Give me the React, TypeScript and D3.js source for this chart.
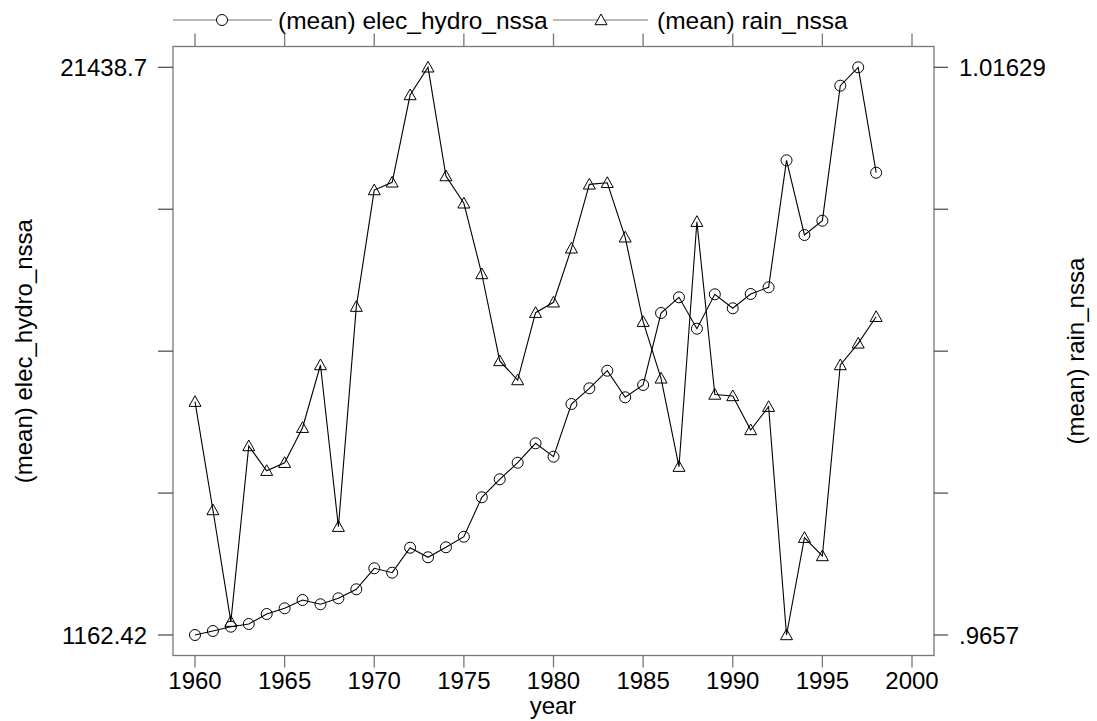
import React from 'react';
import * as d3 from 'd3';

// yearly means
const years = [
  1960, 1961, 1962, 1963, 1964, 1965, 1966, 1967, 1968, 1969,
  1970, 1971, 1972, 1973, 1974, 1975, 1976, 1977, 1978, 1979,
  1980, 1981, 1982, 1983, 1984, 1985, 1986, 1987, 1988, 1989,
  1990, 1991, 1992, 1993, 1994, 1995, 1996, 1997, 1998,
];

const elecHydro = [
  1162.42, 1305, 1459, 1555, 1912, 2116, 2412, 2259, 2473, 2795,
  3545, 3388, 4280, 3938, 4295, 4673, 6081, 6724, 7316, 8009,
  7531, 9413, 9974, 10602, 9652, 10092, 12663, 13224, 12102, 13331,
  12831, 13342, 13581, 18117, 15449, 15960, 20782, 21438.7, 17674,
];

const rain = [
  0.98649, 0.97684, 0.96689, 0.98254, 0.98034, 0.98105, 0.98417, 0.98976, 0.97535, 0.99496,
  1.00535, 1.00604, 1.01382, 1.01629, 1.0066, 1.00417, 0.99787, 0.99012, 0.98842, 0.99442,
  0.99535, 1.00016, 1.00586, 1.006, 1.00114, 0.99362, 0.98857, 0.9807, 1.00253, 0.98713,
  0.987, 0.98397, 0.98604, 0.9657, 0.97437, 0.97274, 0.98976, 0.99169, 0.99406,
];

const xTicks = [1960, 1965, 1970, 1975, 1980, 1985, 1990, 1995, 2000];
const leftTickLabels = ['1162.42', '', '', '', '21438.7'];
const rightTickLabels = ['.9657', '', '', '', '1.01629'];

const FONT = '"Liberation Sans", Arial, Helvetica, sans-serif';

const triangle = (cx: number, cy: number) =>
  `M${cx},${cy - 6}L${cx + 6},${cy + 4.7}L${cx - 6},${cy + 4.7}Z`;

const App: React.FC = () => {
  const width = 1097;
  const height = 721;
  const frame = { left: 173, right: 934, top: 46.5, bottom: 655.5 };

  const x = d3.scaleLinear().domain([1960, 2000]).range([195, 912]);
  const yL = d3.scaleLinear().domain([1162.42, 21438.7]).range([635, 67.3]);
  const yR = d3.scaleLinear().domain([0.9657, 1.01629]).range([635, 67.3]);

  const leftTicks = d3.range(5).map(i => 1162.42 + (i * (21438.7 - 1162.42)) / 4);

  const lineL = d3.line<number>()
    .x((_, i) => x(years[i]))
    .y(d => yL(d));
  const lineR = d3.line<number>()
    .x((_, i) => x(years[i]))
    .y(d => yR(d));

  const frameColor = '#777';
  const tickColor = '#444';
  const midY = (67.3 + 635) / 2;

  return (
    <svg
      width={width}
      height={height}
      style={{ position: 'absolute', left: 0, top: 0, background: '#fff' }}
      fontFamily={FONT}
    >
      {/* legend */}
      <g>
        <line x1={173} x2={272} y1={20} y2={20} stroke={frameColor} strokeWidth={1.2} />
        <circle cx={222} cy={20} r={5.5} fill="#fff" stroke="#000" strokeWidth={1} />
        <text x={278} y={28.5} fontSize={24.5}>(mean) elec_hydro_nssa</text>
        <line x1={553} x2={648} y1={20} y2={20} stroke={frameColor} strokeWidth={1.2} />
        <path d={triangle(601, 20)} fill="#fff" stroke="#000" strokeWidth={1} />
        <text x={657} y={28.5} fontSize={24.5}>(mean) rain_nssa</text>
      </g>

      {/* frame */}
      <rect
        x={frame.left}
        y={frame.top}
        width={frame.right - frame.left}
        height={frame.bottom - frame.top}
        fill="none"
        stroke={frameColor}
        strokeWidth={1.3}
      />

      {/* x ticks, bottom and top */}
      {xTicks.map(t => (
        <g key={t}>
          <line x1={x(t)} x2={x(t)} y1={frame.bottom} y2={frame.bottom + 12} stroke={frameColor} strokeWidth={1.3} />
          <line x1={x(t)} x2={x(t)} y1={frame.top} y2={frame.top - 13} stroke={frameColor} strokeWidth={1.3} />
          <text x={x(t)} y={689} fontSize={24} textAnchor="middle">{t}</text>
        </g>
      ))}
      <text x={553} y={714} fontSize={24} textAnchor="middle">year</text>

      {/* left / right y ticks */}
      {leftTicks.map((t, i) => (
        <g key={i}>
          <line x1={frame.left - 15} x2={frame.left} y1={yL(t)} y2={yL(t)} stroke={tickColor} strokeWidth={1.2} />
          <line x1={frame.right} x2={frame.right + 14} y1={yL(t)} y2={yL(t)} stroke={tickColor} strokeWidth={1.2} />
          <text x={147} y={yL(t) + 8.5} fontSize={24} textAnchor="end">{leftTickLabels[i]}</text>
          <text x={959} y={yL(t) + 8.5} fontSize={24}>{rightTickLabels[i]}</text>
        </g>
      ))}

      <text transform={`translate(32,${midY}) rotate(-90)`} fontSize={24} textAnchor="middle">
        (mean) elec_hydro_nssa
      </text>
      <text transform={`translate(1084,${midY}) rotate(-90)`} fontSize={24} textAnchor="middle">
        (mean) rain_nssa
      </text>

      {/* series */}
      <path d={lineL(elecHydro) || ''} fill="none" stroke="#000" strokeWidth={1.1} />
      <path d={lineR(rain) || ''} fill="none" stroke="#000" strokeWidth={1.1} />
      {elecHydro.map((v, i) => (
        <circle key={`c${i}`} cx={x(years[i])} cy={yL(v)} r={5.5} fill="none" stroke="#000" strokeWidth={1} />
      ))}
      {rain.map((v, i) => (
        <path key={`t${i}`} d={triangle(x(years[i]), yR(v))} fill="none" stroke="#000" strokeWidth={1} />
      ))}
    </svg>
  );
};

export default App;
